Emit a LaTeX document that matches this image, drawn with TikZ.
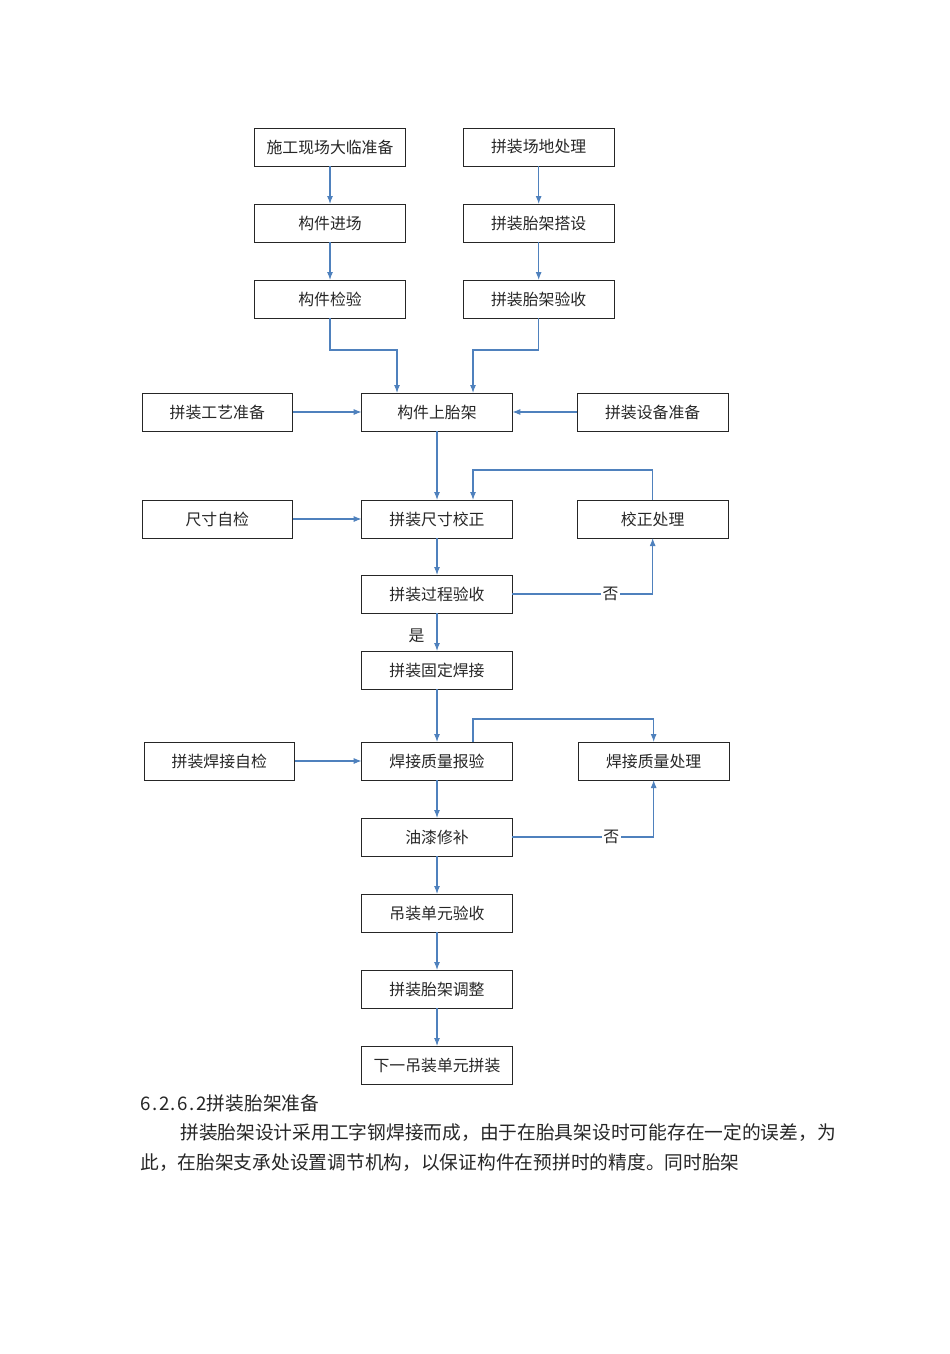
\documentclass[tikz,border=0pt]{standalone}
\usepackage{fontspec}
\setmainfont{Noto Sans CJK SC}
\usepackage{xcolor}
\usepackage{tikz}
\usetikzlibrary{arrows, arrows.meta, positioning}

\definecolor{flowblue}{RGB}{79,129,189}

\begin{document}
\begin{tikzpicture}[node distance=28.5pt, auto, >={Latex[length=6pt,width=4.5pt]},
    box/.style={draw=black!85, line width=0.75pt, rectangle, outer sep=0pt, minimum width=113pt, minimum height=28.5pt, text=black!85, font=\fontsize{11.9pt}{13pt}\selectfont},
    flow/.style={->, draw=flowblue, line width=0.8pt},
    tag/.style={font=\fontsize{11.9pt}{13pt}\selectfont, text=black!85, inner sep=1pt},
    para/.style={anchor=west, inner sep=0pt, text=black!85, font=\fontsize{14.05pt}{16pt}\selectfont}]
    \useasboundingbox (0,0) rectangle (712.5pt,-1015.5pt);

    % upper two columns
    \node [box] at (247.5pt,-110.25pt) (prep) {施工现场大临准备};
    \node [box, right=43.5pt of prep] (site) {拼装场地处理};
    \node [box, below=of prep] (enter) {构件进场};
    \node [box, below=of enter] (check) {构件检验};
    \node [box, below=of site] (build) {拼装胎架搭设};
    \node [box, below=of build] (accept) {拼装胎架验收};

    % main column
    \node [box] at (327.75pt,-309pt) (mount) {构件上胎架};
    \node [box, left=51.75pt of mount] (craft) {拼装工艺准备};
    \node [box, right=48.75pt of mount] (equip) {拼装设备准备};
    \node [box, below=51.75pt of mount] (dimfix) {拼装尺寸校正};
    \node [box, left=51.75pt of dimfix] (selfchk) {尺寸自检};
    \node [box, right=48.75pt of dimfix] (corr) {校正处理};
    \node [box, below=27.75pt of dimfix] (procacc) {拼装过程验收};
    \node [box, below=of procacc] (fixweld) {拼装固定焊接};
    \node [box, below=39.75pt of fixweld] (weldchk) {焊接质量报验};
    \node [box, left=50.25pt of weldchk] (weldself) {拼装焊接自检};
    \node [box, right=49.5pt of weldchk] (wfix) {焊接质量处理};
    \node [box, below=of weldchk] (paint) {油漆修补};
    \node [box, below=of paint] (liftacc) {吊装单元验收};
    \node [box, below=of liftacc] (adjust) {拼装胎架调整};
    \node [box, below=of adjust] (next) {下一吊装单元拼装};

    % text below the chart
    \node [para] at (105pt,-827.25pt) (heading) {\makebox[50pt][s]{6\hfil.\hfil2\hfil.\hfil6\hfil.\hfil2}拼装胎架准备};
    \node [para] at (135pt,-849.75pt) (para1) {拼装胎架设计采用工字钢焊接而成，由于在胎具架设时可能存在一定的误差，为};
    \node [para] at (105pt,-872.25pt) (para2) {此，在胎架支承处设置调节机构，以保证构件在预拼时的精度。同时胎架};

    \draw [flow] (prep) -- (enter);
    \draw [flow] (enter) -- (check);
    \draw [flow] (site) -- (build);
    \draw [flow] (build) -- (accept);
    \draw [flow] (check.south) -- ++(0,-24pt) -| ([xshift=-30pt]mount.north);
    \draw [flow] (accept.south) -- ++(0,-24pt) -| ([xshift=27pt]mount.north);
    \draw [flow] (craft) -- (mount);
    \draw [flow] (equip) -- (mount);
    \draw [flow] (mount) -- (dimfix);
    \draw [flow] (selfchk) -- (dimfix);
    \draw [flow] (corr.north) -- ++(0,22.5pt) -| ([xshift=27pt]dimfix.north);
    \draw [flow] (dimfix) -- (procacc);
    \draw [flow] (procacc.east) -| node [tag, auto=false, fill=white, pos=0.35] {否} (corr.south);
    \draw [flow] (procacc) -- node [tag, left=8pt, pos=0.6] {是} (fixweld);
    \draw [flow] (fixweld) -- (weldchk);
    \draw [flow] (weldself) -- (weldchk);
    \draw [flow] ([xshift=27pt]weldchk.north) -- ++(0,17.25pt) -| (wfix.north);
    \draw [flow] (weldchk) -- (paint);
    \draw [flow] (paint.east) -| node [tag, auto=false, fill=white, pos=0.35] {否} (wfix.south);
    \draw [flow] (paint) -- (liftacc);
    \draw [flow] (liftacc) -- (adjust);
    \draw [flow] (adjust) -- (next);
\end{tikzpicture}
\end{document}
